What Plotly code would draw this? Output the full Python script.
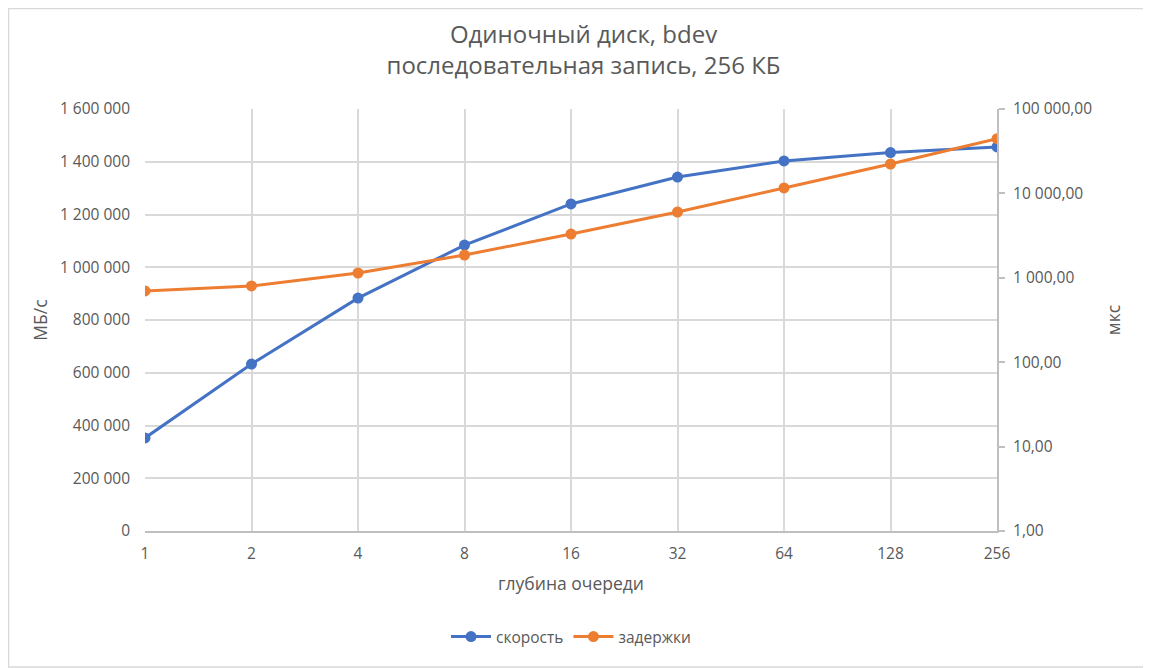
####################################################################################################################
# plot.py
#
# single disk, bdev, sequential write 256 KB - throughput vs latency over queue depth

####################################################################################################################
# IMPORTS
import plotly.graph_objects as go

####################################################################################################################
# DATA
queue_depth = ['1', '2', '4', '8', '16', '32', '64', '128', '256']
speed = [353000, 633000, 883000, 1084000, 1240000, 1342000, 1403000, 1435000, 1456000]  # МБ/с
latency = [698, 800, 1140, 1860, 3300, 6020, 11600, 22300, 44500]  # мкс

title_lines = ['Одиночный диск, bdev', 'последовательная запись, 256 КБ']

####################################################################################################################
# SCRIPT
blue = '#4472C4'
orange = '#ED7D31'
grey_txt = '#595959'
grid = '#D9D9D9'
font = 'Open Sans, Noto Sans, sans-serif'

fig = go.Figure()

fig.add_trace(go.Scatter(x=queue_depth, y=speed, name='скорость', mode='lines+markers',
                         line=dict(color=blue, width=3), marker=dict(color=blue, size=11)))
fig.add_trace(go.Scatter(x=queue_depth, y=latency, name='задержки', mode='lines+markers', yaxis='y2',
                         line=dict(color=orange, width=3), marker=dict(color=orange, size=11)))

# page puts the figure 8px in from the corner, margins are set with that in mind
fig.update_layout(
    width=1151, height=668,
    paper_bgcolor='white', plot_bgcolor='white',
    separators=', ',
    font=dict(family=font, size=15.5, color=grey_txt),
    margin=dict(l=137, r=162, t=101, b=145),
    title=dict(text='<br>'.join(title_lines), x=0.5, xanchor='center', y=0.948, yanchor='top',
               font=dict(size=24, color=grey_txt)),
    xaxis=dict(type='category', range=[0, 8], showgrid=True, gridcolor=grid, gridwidth=2,
               showline=True, linecolor='#BFBFBF', linewidth=2, ticks='', zeroline=False,
               ticklabelstandoff=7,
               title=dict(text='глубина очереди', font=dict(size=17.5), standoff=15),
               tickfont=dict(size=15.5)),
    yaxis=dict(range=[0, 1600000], dtick=200000, tickformat=',d', showgrid=True, gridcolor=grid,
               gridwidth=2, zeroline=False, showline=False, ticks='', ticklabelstandoff=14,
               title=dict(text='МБ/с', font=dict(size=17.5), standoff=7)),
    yaxis2=dict(type='log', range=[0, 5], dtick=1, tickformat=',.2f', overlaying='y', side='right',
                showgrid=False, zeroline=False, showline=True, linecolor='#BFBFBF', linewidth=2,
                ticks='outside', ticklen=6, tickcolor='#BFBFBF', tickwidth=2, ticklabelstandoff=5,
                title=dict(text='мкс', font=dict(size=17.5), standoff=17)),
    legend=dict(orientation='h', x=0.5, xanchor='center', y=-0.211, yanchor='top',
                font=dict(size=15.5), itemwidth=40),
    showlegend=True,
    shapes=[dict(type='rect', xref='paper', yref='paper', x0=-0.1602, x1=1.1796, y0=-0.3223, y1=1.2382,
                 line=dict(color='#D9D9D9', width=1.5), layer='below')],
)

fig.write_html('out.html')
